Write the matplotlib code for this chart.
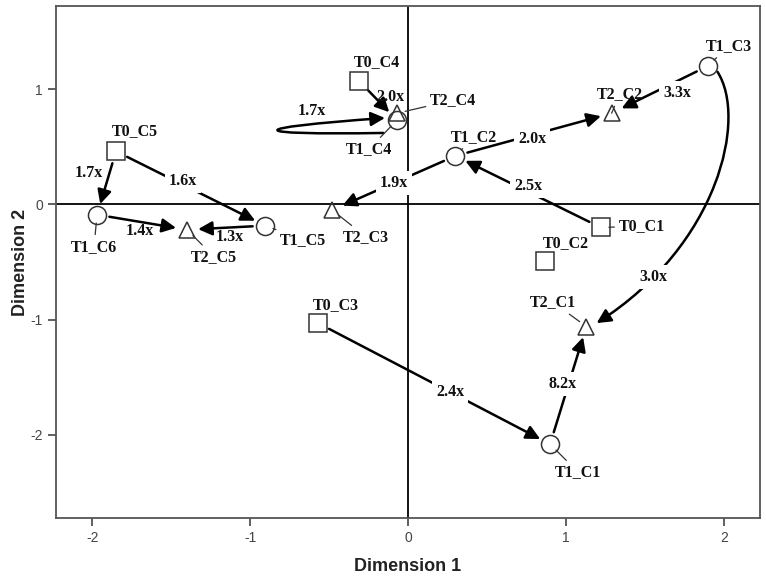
import numpy as np
import matplotlib
matplotlib.use("Agg")
import matplotlib.pyplot as plt
from matplotlib.patches import FancyArrowPatch
from matplotlib.path import Path

# correspondence map coordinates
names = ["T0_C1", "T0_C2", "T0_C3", "T0_C4", "T0_C5",
         "T1_C1", "T1_C2", "T1_C3", "T1_C4", "T1_C5", "T1_C6",
         "T2_C1", "T2_C2", "T2_C3", "T2_C4", "T2_C5"]
dim1 = [1.22, 0.87, -0.57, -0.31, -1.85,
        0.90, 0.30, 1.90, -0.07, -0.905, -1.97,
        1.13, 1.29, -0.48, -0.07, -1.40]
dim2 = [-0.20, -0.49, -1.03, 1.07, 0.46,
        -2.08, 0.42, 1.20, 0.73, -0.185, -0.09,
        -1.06, 0.79, -0.05, 0.79, -0.22]

# transitions between time points
trans_src = ["T0_C5", "T0_C5", "T1_C6", "T1_C5", "T0_C4", "T1_C4", "T1_C2",
             "T0_C1", "T1_C2", "T1_C3", "T1_C3", "T0_C3", "T1_C1"]
trans_dst = ["T1_C6", "T1_C5", "T2_C5", "T2_C5", "T1_C4", "T2_C4", "T2_C3",
             "T1_C2", "T2_C2", "T2_C2", "T2_C1", "T1_C1", "T2_C1"]
ratios = ["1.7x", "1.6x", "1.4x", "1.3x", "2.0x", "1.7x", "1.9x",
          "2.5x", "2.0x", "3.3x", "3.0x", "2.4x", "8.2x"]

# layout: label offsets (pixels) from each point
label_off = {
    "T0_C1": (41, 1), "T0_C2": (21, 18), "T0_C3": (18, 18), "T0_C4": (18, 19),
    "T0_C5": (19, 20), "T1_C1": (28, -28), "T1_C2": (19, 19), "T1_C3": (21, 20),
    "T1_C4": (-28, -29), "T1_C5": (38, -14), "T1_C6": (-3, -32),
    "T2_C1": (-33, 24), "T2_C2": (8, 19), "T2_C3": (34, -27), "T2_C4": (56, 13),
    "T2_C5": (27, -27),
}
no_leader = {"T0_C2", "T0_C3", "T0_C4", "T0_C5"}

# layout: ratio label position along arrow (t), pixel offset, white box or not
ratio_t = [0.5, 0.45, 0.5, 0.5, 0.5, 0.75, 0.5, 0.5, 0.49, 0.36, 0.82, 0.57, 0.51]
ratio_off = [(-18, 10), (0, 4), (-2, -9), (4, -9), (12, 4), (7, 14), (0, 0),
             (0, 6), (0, -4), (4, -10), (0, 0), (0, 0), (-6, 0)]
ratio_box = [False, True, False, False, False, False, True,
             True, True, True, True, True, True]

# curved arrows: control offsets (data units) relative to the source point
curves = {
    ("T1_C4", "T2_C4"): [(-0.086, -0.111), (-0.98, -0.13), (-0.98, -0.07), (-0.076, 0.019)],
    ("T1_C3", "T2_C1"): [(0.06, -0.05), (0.25, -0.45), (0.07, -1.55), (-0.705, -2.23)],
}

pos = {n: (x, y) for n, x, y in zip(names, dim1, dim2)}
marker_of = {"T0": "s", "T1": "o", "T2": "^"}
size_of = {"T0": 12.5, "T1": 13, "T2": 11}

label_font = dict(family="Liberation Serif", fontweight="bold", fontsize=11.5, color="#111111")


def bezier(pts, t):
    p = np.array(pts)
    return ((1 - t) ** 3 * p[0] + 3 * (1 - t) ** 2 * t * p[1]
            + 3 * (1 - t) * t ** 2 * p[2] + t ** 3 * p[3])


def main():
    plt.rcParams["axes.unicode_minus"] = False
    fig = plt.figure(figsize=(7.66, 5.77), dpi=100)
    ax = fig.add_axes([0.0731, 0.1023, 0.9191, 0.8873])
    ax.set_xlim(-2.23, 2.23)
    ax.set_ylim(-2.72, 1.72)

    ax.axhline(0, color="black", lw=1.3, zorder=1)
    ax.axvline(0, color="black", lw=1.3, zorder=1)

    for n in names:
        g = n[:2]
        ax.plot(*pos[n], marker=marker_of[g], ms=size_of[g], mfc="none",
                mec="#333333", mew=1.1, ls="none", zorder=4)

    for n in names:
        x, y = pos[n]
        if n in no_leader:
            ax.annotate(n, (x, y), xytext=label_off[n], textcoords="offset pixels",
                        ha="center", va="center", zorder=5, **label_font)
        else:
            ax.annotate(n, (x, y), xytext=label_off[n], textcoords="offset pixels",
                        ha="center", va="center", zorder=5,
                        arrowprops=dict(arrowstyle="-", color="#333333", lw=0.9,
                                        shrinkA=1, shrinkB=6),
                        **label_font)

    style = "-|>,head_length=0.6,head_width=0.3"
    for i, (s, d, r) in enumerate(zip(trans_src, trans_dst, ratios)):
        sx, sy = pos[s]
        dx, dy = pos[d]
        if (s, d) in curves:
            pts = [(sx + ox, sy + oy) for ox, oy in curves[(s, d)]]
            path = Path(pts, [Path.MOVETO, Path.CURVE4, Path.CURVE4, Path.CURVE4])
            arr = FancyArrowPatch(path=path, arrowstyle=style, mutation_scale=14,
                                  color="black", lw=1.8, zorder=3)
            ax.add_patch(arr)
            lx, ly = bezier(pts, ratio_t[i])
        else:
            ax.annotate("", (dx, dy), xytext=(sx, sy),
                        arrowprops=dict(arrowstyle=style, mutation_scale=14,
                                        color="black", lw=1.8,
                                        shrinkA=9, shrinkB=8),
                        zorder=3)
            t = ratio_t[i]
            lx, ly = sx + t * (dx - sx), sy + t * (dy - sy)
        bbox = dict(boxstyle="square,pad=0.25", fc="white", ec="none") if ratio_box[i] else None
        ax.annotate(r, (lx, ly), xytext=ratio_off[i], textcoords="offset pixels",
                    ha="center", va="center", bbox=bbox, zorder=3.5, **label_font)

    ax.set_xticks([-2, -1, 0, 1, 2])
    ax.set_yticks([-2, -1, 0, 1])
    ax.tick_params(direction="out", length=6, width=1.2, color="#444444",
                   labelsize=10, labelcolor="#444444")
    for lab in ax.get_xticklabels() + ax.get_yticklabels():
        lab.set_family("Liberation Sans")
    for sp in ax.spines.values():
        sp.set_color("#555555")
        sp.set_linewidth(1.3)

    ax.set_xlabel("Dimension 1", family="Liberation Sans", fontweight="bold",
                  fontsize=13, color="#222222", labelpad=9)
    ax.set_ylabel("Dimension 2", family="Liberation Sans", fontweight="bold",
                  fontsize=13, color="#222222", labelpad=1)

    fig.savefig("out.png", dpi=100)


if __name__ == "__main__":
    main()
